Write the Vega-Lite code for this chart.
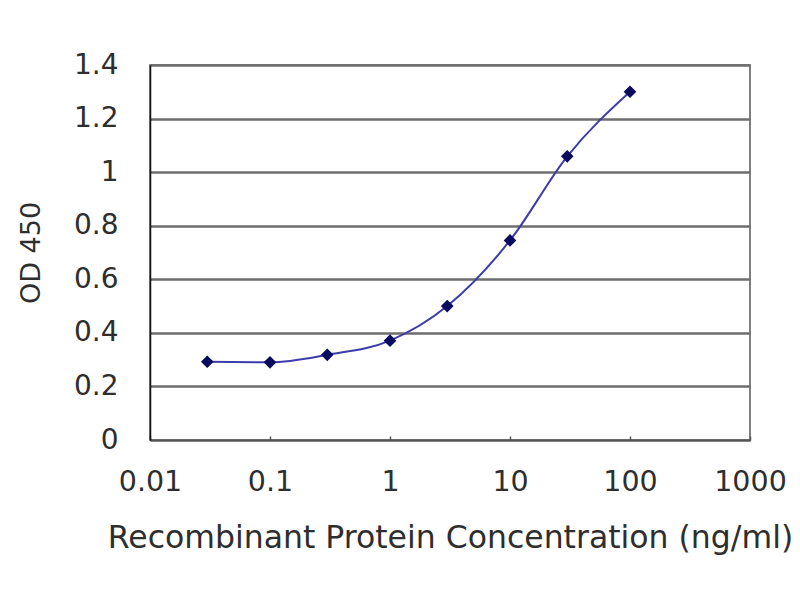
{
  "$schema": "https://vega.github.io/schema/vega-lite/v6.json",
  "width": 600,
  "height": 375,
  "autosize": {"type": "none"},
  "padding": {"left": 150, "top": 65, "right": 50, "bottom": 160},
  "background": "white",
  "config": {
    "view": {"stroke": "#555555", "strokeWidth": 1.5},
    "font": "DejaVu Sans",
    "axis": {
      "labelFont": "DejaVu Sans",
      "titleFont": "DejaVu Sans",
      "labelColor": "#2e2e2e",
      "titleColor": "#2e2e2e",
      "labelFontWeight": "normal",
      "titleFontWeight": "normal",
      "labelFlush": false,
      "labelOverlap": false
    }
  },
  "data": {
    "values": [
      {"conc": 0.03, "od": 0.292},
      {"conc": 0.1, "od": 0.290},
      {"conc": 0.3, "od": 0.318},
      {"conc": 1, "od": 0.371},
      {"conc": 3, "od": 0.500},
      {"conc": 10, "od": 0.745},
      {"conc": 30, "od": 1.059},
      {"conc": 100, "od": 1.300}
    ]
  },
  "encoding": {
    "x": {
      "field": "conc",
      "type": "quantitative",
      "scale": {"type": "log", "domain": [0.01, 1000]},
      "axis": {
        "title": "Recombinant Protein Concentration (ng/ml)",
        "values": [0.01, 0.1, 1, 10, 100, 1000],
        "format": "~g",
        "grid": false,
        "domainColor": "#555555",
        "domainWidth": 1.5,
        "tickColor": "#555555",
        "tickSize": -4,
        "tickWidth": 1.5,
        "labelFontSize": 28.5,
        "labelPadding": 31,
        "titleFontSize": 31.5,
        "titlePadding": 27
      }
    },
    "y": {
      "field": "od",
      "type": "quantitative",
      "scale": {"domain": [0, 1.4]},
      "axis": {
        "title": "OD 450",
        "values": [0, 0.2, 0.4, 0.6, 0.8, 1, 1.2, 1.4],
        "format": "~g",
        "grid": true,
        "gridColor": "#6e6e6e",
        "gridWidth": 2.5,
        "domainColor": "#111111",
        "domainWidth": 1.5,
        "ticks": false,
        "labelFontSize": 28,
        "labelPadding": 32,
        "titleFontSize": 27,
        "titlePadding": 28
      }
    }
  },
  "layer": [
    {
      "mark": {"type": "line", "interpolate": "monotone", "color": "#3c3caa", "strokeWidth": 2}
    },
    {
      "mark": {"type": "point", "shape": "diamond", "filled": true, "color": "#0a0a5e", "size": 160, "opacity": 1}
    }
  ]
}
